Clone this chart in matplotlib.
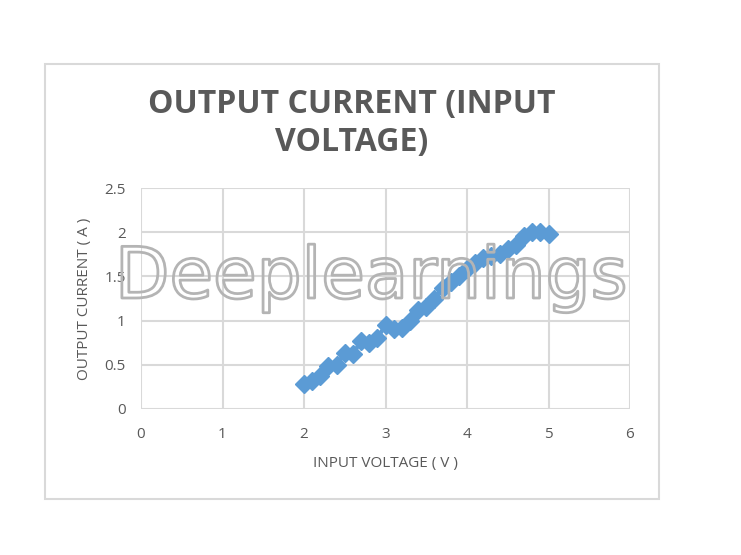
import matplotlib
matplotlib.use("Agg")
import matplotlib.pyplot as plt
import matplotlib.patheffects as pe
from matplotlib.patches import Rectangle

voltage = [2.0, 2.1, 2.2, 2.3, 2.4, 2.5, 2.6, 2.7, 2.8, 2.9, 3.0, 3.1, 3.2, 3.3, 3.4,
           3.5, 3.6, 3.7, 3.8, 3.9, 4.0, 4.1, 4.2, 4.3, 4.4, 4.5, 4.6, 4.7, 4.8, 4.9, 5.0]
current = [0.28, 0.32, 0.37, 0.49, 0.50, 0.63, 0.62, 0.77, 0.75, 0.80, 0.95, 0.90, 0.92, 1.00, 1.12,
           1.15, 1.25, 1.37, 1.44, 1.51, 1.58, 1.65, 1.71, 1.73, 1.75, 1.81, 1.86, 1.96, 2.00, 2.00, 1.98]
xticks = [0, 1, 2, 3, 4, 5, 6]
yticks = [0, 0.5, 1, 1.5, 2, 2.5]
ytick_labels = ["0", "0.5", "1", "1.5", "2", "2.5"]

W, H = 741, 555
fig = plt.figure(figsize=(W / 100, H / 100), dpi=100)
fig.patch.set_facecolor("white")

# chart border
fig.patches.append(Rectangle((45 / W, 1 - 499 / H), (659 - 45) / W, (499 - 64) / H,
                             transform=fig.transFigure, fill=False,
                             edgecolor="#d9d9d9", linewidth=1.5))

ax = fig.add_axes([141 / W, 1 - 409 / H, (630 - 141) / W, (409 - 188) / H])
ax.set_xlim(0, 6)
ax.set_ylim(0, 2.5)
ax.set_xticks(xticks)
ax.set_yticks(yticks)
ax.set_yticklabels(ytick_labels)
for s in ax.spines.values():
    s.set_visible(False)
ax.grid(True, color="#d9d9d9", linewidth=1.5)
ax.set_axisbelow(True)
ax.tick_params(length=0, labelsize=11, colors="#595959")
ax.tick_params(axis="x", pad=13)
ax.tick_params(axis="y", pad=11)
for lbl in ax.get_xticklabels() + ax.get_yticklabels():
    lbl.set_fontfamily("Open Sans")

ax.plot(voltage, current, color="#5b9bd5", linewidth=3, marker="D",
        markersize=9, markerfacecolor="#5b9bd5", markeredgecolor="#5b9bd5", clip_on=False)

ax.set_xlabel("INPUT VOLTAGE ( V )", fontsize=11, color="#595959", family="Open Sans", labelpad=10)
ax.set_ylabel("OUTPUT CURRENT ( A )", fontsize=11, color="#595959", family="Open Sans", labelpad=9)

fig.text(352 / W, 1 - 104 / H, "OUTPUT CURRENT (INPUT", ha="center", va="center",
         fontsize=23, fontweight="bold", color="#595959", family="Open Sans")
fig.text(352 / W, 1 - 143 / H, "VOLTAGE)", ha="center", va="center",
         fontsize=23, fontweight="bold", color="#595959", family="Open Sans")

# watermark (outline only)
wm = fig.text(371 / W, 1 - 298 / H, "Deeplearnings", ha="center", va="baseline",
              fontsize=51, color=(1, 1, 1, 0), family="DejaVu Sans", zorder=10)
wm.set_path_effects([pe.Stroke(linewidth=2.0, foreground="#b4b4b4")])

fig.savefig("out.png", dpi=100)
